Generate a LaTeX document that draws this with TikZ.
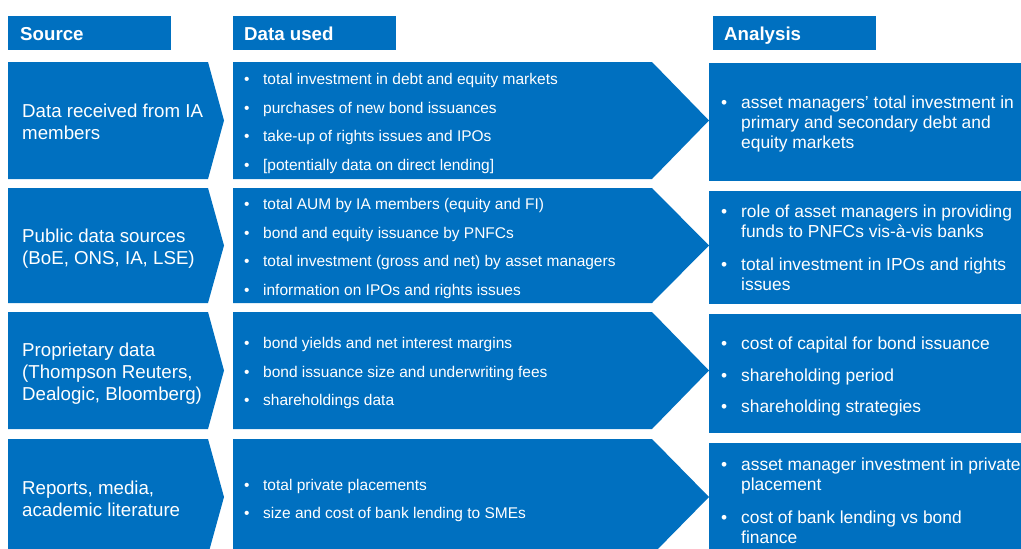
\documentclass[tikz,border=0pt]{standalone}
\usepackage{fontspec}
\setmainfont{Liberation Sans}
\usetikzlibrary{calc,positioning}
\definecolor{iablue}{HTML}{0070C0}
\newcommand{\bul}[1]{\makebox[#1][l]{\textbullet}}

\begin{document}
\begin{tikzpicture}[x=1pt,y=-1pt]
\tikzstyle{box}=[fill=iablue]
\tikzstyle{head}=[font=\fontsize{18.7}{22}\selectfont\bfseries, text=white, anchor=base west, inner sep=0pt]
\tikzstyle{srctext}=[font=\fontsize{18.7}{21.8}\selectfont, text=white, anchor=west, align=left, inner sep=0pt]
\tikzstyle{datatext}=[font=\fontsize{15.5}{28.5}\selectfont, text=white, anchor=west, align=left, inner sep=0pt]
\tikzstyle{antext}=[font=\fontsize{17.4}{20.3}\selectfont, text=white, anchor=west, align=left, inner sep=0pt]
\useasboundingbox (0,0) rectangle (1021,549);

% column heads
\fill[box] (8,16) rectangle (171,50);
\fill[box] (233,16) rectangle (396,50);
\fill[box] (713,16) rectangle (876,50);
\node[head] (hsrc) at (20,40) {Source};
\node[head] (hdata) at (244,40) {Data used};
\node[head] (han) at (724,40) {Analysis};

% chevrons and boxes
\foreach \t/\b in {62/179,188/303,312/429,439/555}{
  \fill[box] (8,\t) -- (208,\t) -- (224,{(\t+\b)/2}) -- (208,\b) -- (8,\b) -- cycle;
  \fill[box] (233,\t) -- (652,\t) -- (709,{(\t+\b)/2}) -- (652,\b) -- (233,\b) -- cycle;
}
\foreach \t/\b in {63/181,191/304,314/433,443/557}{
  \fill[box] (709,\t) rectangle (1021,\b);
}

% source texts
\node[srctext] (src1) at (22,122) {Data received from IA\\members};
\node[srctext] (src2) at (22,248.5) {Public data sources\\(BoE, ONS, IA, LSE)};
\node[srctext] (src3) at (22,373.5) {Proprietary data\\(Thompson Reuters,\\Dealogic, Bloomberg)};
\node[srctext] (src4) at (22,499) {Reports, media,\\academic literature};

% data used
\node[datatext] (data1) at (244,123.5) {\bul{19pt}total investment in debt and equity markets\\
  \bul{19pt}purchases of new bond issuances\\
  \bul{19pt}take-up of rights issues and IPOs\\
  \bul{19pt}[potentially data on direct lending]};
\node[datatext] (data2) at (244,248.5) {\bul{19pt}total AUM by IA members (equity and FI)\\
  \bul{19pt}bond and equity issuance by PNFCs\\
  \bul{19pt}total investment (gross and net) by asset managers\\
  \bul{19pt}information on IPOs and rights issues};
\node[datatext] (data3) at (244,373) {\bul{19pt}bond yields and net interest margins\\
  \bul{19pt}bond issuance size and underwriting fees\\
  \bul{19pt}shareholdings data};
\node[datatext] (data4) at (244,500.5) {\bul{19pt}total private placements\\
  \bul{19pt}size and cost of bank lending to SMEs};

% analysis
\node[antext] (an1) at (721,124) {\bul{20pt}asset managers’ total investment in\\
  \hspace*{20pt}primary and secondary debt and\\
  \hspace*{20pt}equity markets};
\node[antext] (an2) at (721,247.5) {\bul{20pt}role of asset managers in providing\\
  \hspace*{20pt}funds to PNFCs vis-à-vis banks\\[12.4pt]
  \bul{20pt}total investment in IPOs and rights\\
  \hspace*{20pt}issues};
\node[antext] (an3) at (721,376.5) {\bul{20pt}cost of capital for bond issuance\\[11.4pt]
  \bul{20pt}shareholding period\\[11.4pt]
  \bul{20pt}shareholding strategies};
\node[antext] (an4) at (721,501) {\bul{20pt}asset manager investment in private\\
  \hspace*{20pt}placement\\[12.4pt]
  \bul{20pt}cost of bank lending vs bond\\
  \hspace*{20pt}finance};
\end{tikzpicture}
\end{document}
